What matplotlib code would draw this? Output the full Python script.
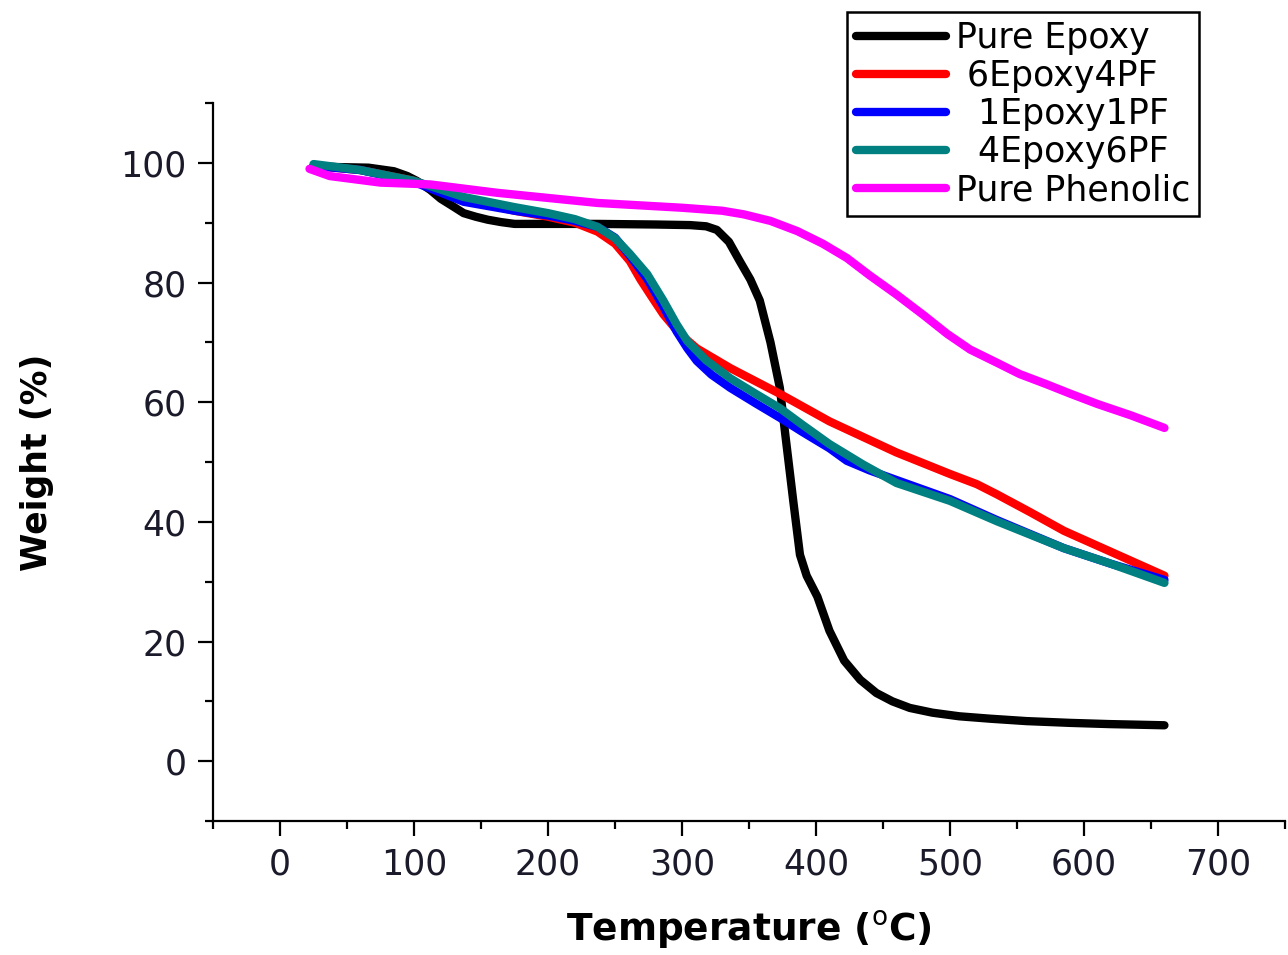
import matplotlib.pyplot as plt
from matplotlib.ticker import MultipleLocator

plt.rcParams['font.family'] = ['DejaVu Sans']

# TGA data
temp_epoxy = [25, 42, 66, 85, 95, 102, 112, 120, 130, 137, 146, 155, 165, 175, 200, 237, 280, 306,
              318, 326, 335, 343, 351, 358, 366, 373, 377, 383, 388, 393, 401, 410, 421, 433, 445,
              457, 470, 487, 507, 530, 557, 590, 619, 640, 660]
w_epoxy = [99.5, 99.3, 99.2, 98.6, 97.8, 97.0, 95.5, 94.0, 92.6, 91.6, 91.0, 90.5, 90.1, 89.8, 89.8,
           89.8, 89.7, 89.6, 89.4, 88.8, 86.8, 83.6, 80.5, 77.0, 70.0, 62.4, 54.7, 43.5, 34.5, 31.0,
           27.5, 21.8, 16.8, 13.6, 11.4, 10.0, 8.9, 8.1, 7.5, 7.1, 6.7, 6.4, 6.2, 6.1, 6.0]

temp_6e4pf = [25, 60, 100, 137, 175, 200, 220, 237, 250, 261, 269, 278, 286, 298, 311, 336, 373,
              410, 435, 460, 500, 520, 535, 560, 585, 620, 660]
w_6e4pf = [99.5, 98.8, 97.0, 94.0, 92.0, 91.0, 90.0, 88.5, 86.5, 83.6, 80.5, 77.4, 74.7, 71.5,
           69.0, 65.7, 61.4, 56.8, 54.2, 51.6, 48.0, 46.3, 44.6, 41.6, 38.5, 35.0, 31.0]

temp_1e1pf = [25, 60, 100, 137, 175, 200, 220, 237, 250, 261, 274, 286, 296, 304, 311, 322, 336,
              355, 373, 390, 410, 423, 440, 460, 500, 535, 585, 620, 660]
w_1e1pf = [99.5, 98.8, 96.8, 93.5, 92.0, 91.2, 90.3, 89.3, 87.5, 84.5, 80.6, 76.0, 71.8, 69.0,
           66.9, 64.6, 62.4, 59.8, 57.4, 55.0, 52.3, 50.2, 48.6, 47.0, 43.8, 40.3, 35.6, 33.0, 30.3]

temp_4e6pf = [25, 60, 100, 137, 175, 200, 220, 237, 250, 261, 274, 286, 296, 304, 318, 336, 355,
              373, 390, 410, 435, 460, 500, 535, 585, 620, 660]
w_4e6pf = [99.8, 98.8, 97.0, 94.3, 92.6, 91.6, 90.6, 89.3, 87.4, 84.8, 81.4, 77.0, 73.0, 70.2,
           67.0, 64.0, 61.4, 59.0, 56.2, 53.0, 49.6, 46.5, 43.5, 40.1, 35.6, 33.0, 29.8]

temp_phenolic = [22, 37, 75, 112, 162, 237, 300, 330, 346, 366, 386, 405, 423, 440, 460, 480, 498,
                 515, 535, 552, 572, 590, 610, 635, 660]
w_phenolic = [99.0, 97.8, 96.7, 96.4, 95.0, 93.3, 92.5, 92.0, 91.4, 90.3, 88.6, 86.5, 84.1, 81.2,
              78.0, 74.6, 71.4, 68.8, 66.6, 64.7, 63.0, 61.4, 59.7, 57.8, 55.7]

fig = plt.figure(figsize=(12.88, 9.55), dpi=100)
ax = fig.add_axes([0.1654, 0.1403, 0.8323, 0.7518])

line_kw = dict(lw=6, solid_joinstyle='round', solid_capstyle='round')
ax.plot(temp_epoxy, w_epoxy, color='black', label='Pure Epoxy', **line_kw)
ax.plot(temp_6e4pf, w_6e4pf, color='#ff0000', label=' 6Epoxy4PF', **line_kw)
ax.plot(temp_1e1pf, w_1e1pf, color='#0000ff', label='  1Epoxy1PF', **line_kw)
ax.plot(temp_4e6pf, w_4e6pf, color='#008080', label='  4Epoxy6PF', **line_kw)
ax.plot(temp_phenolic, w_phenolic, color='#ff00ff', label='Pure Phenolic', **line_kw)

ax.set_xlim(-50, 750)
ax.set_ylim(-10, 110)
ax.xaxis.set_major_locator(MultipleLocator(100))
ax.xaxis.set_minor_locator(MultipleLocator(50))
ax.yaxis.set_major_locator(MultipleLocator(20))
ax.yaxis.set_minor_locator(MultipleLocator(10))

ax.spines['top'].set_visible(False)
ax.spines['right'].set_visible(False)
ax.spines['left'].set_linewidth(1.6)
ax.spines['bottom'].set_linewidth(1.6)
ax.tick_params(which='major', direction='out', length=11, width=1.6, labelsize=25,
               labelcolor='#1a1a2a', pad=8)
ax.tick_params(which='minor', direction='out', length=6, width=1.6)

ax.set_xlabel('Temperature ($^{\\mathrm{o}}$C)', fontsize=27, fontweight='bold', labelpad=20)
ax.set_ylabel('Weight (%)', fontsize=25, fontweight='bold', labelpad=48)

leg = ax.legend(loc='upper left', bbox_to_anchor=(0.6576, 0.9874), bbox_transform=fig.transFigure,
                fontsize=25, handlelength=2.6, labelspacing=0.12, handletextpad=0.3,
                borderpad=0.25, borderaxespad=0, fancybox=False, framealpha=1, edgecolor='black')
leg.get_frame().set_linewidth(1.8)

fig.savefig('out.png', dpi=100)
